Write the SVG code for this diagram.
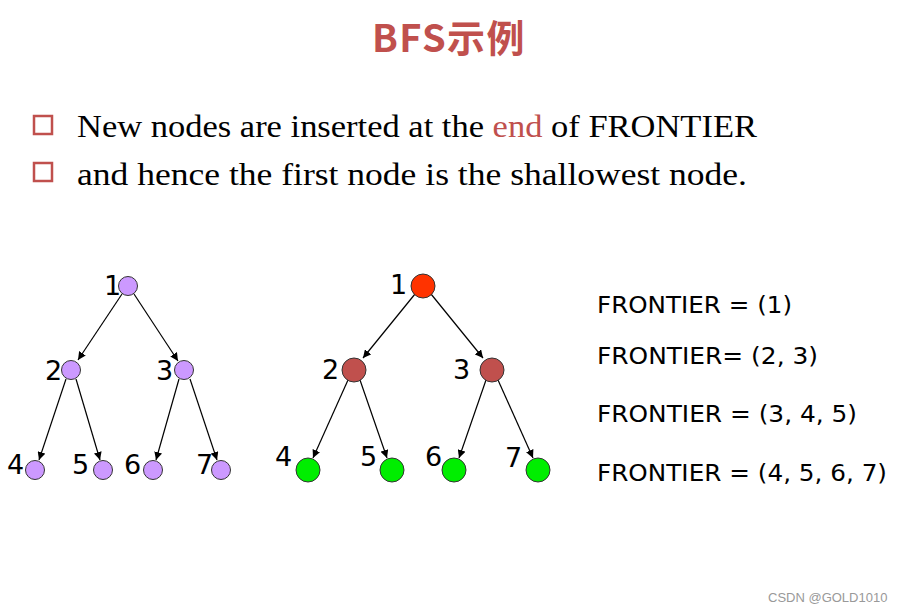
<svg xmlns="http://www.w3.org/2000/svg" width="900" height="612" viewBox="0 0 900 612">
<style>
.title{font-family:"Noto Sans CJK SC","Noto Sans",sans-serif;font-size:38px;font-weight:bold;fill:#C0504D;letter-spacing:1.5px}
.bullet{font-family:"Liberation Serif","DejaVu Serif",serif;font-size:31px;fill:#000}
.box{fill:none;stroke:#C0504D;stroke-width:2.5}
.lbl{font-family:"DejaVu Sans","Noto Sans",sans-serif;font-size:27px;fill:#000}
.fr{font-family:"DejaVu Sans","Noto Sans",sans-serif;font-size:23px;fill:#000}
.edge{stroke:#000;stroke-width:1.2;fill:none;marker-end:url(#ah)}
.purple{fill:#CC99FF;stroke:#333;stroke-width:1}
.red{fill:#FF3300;stroke:#333;stroke-width:1}
.brown{fill:#C0504D;stroke:#333;stroke-width:1}
.green{fill:#00EE00;stroke:#333;stroke-width:1}
.wm{font-family:"Liberation Sans",Arial,sans-serif;font-size:13px;fill:#999}
</style>
<defs>
<marker id="ah" viewBox="0 0 10 10" refX="10" refY="5" markerWidth="8" markerHeight="8" markerUnits="userSpaceOnUse" orient="auto">
<path d="M0,0 L10,5 L0,10 z" fill="#000"/>
</marker>
</defs>
<rect width="900" height="612" fill="#fff"/>
<text class="title" x="449" y="52" text-anchor="middle">BFS示例</text>
<rect class="box" x="34" y="116" width="18" height="18"/>
<rect class="box" x="34" y="163" width="18" height="18"/>
<text class="bullet" x="77" y="137" textLength="680" lengthAdjust="spacingAndGlyphs">New nodes are inserted at the <tspan fill="#C0504D">end</tspan> of FRONTIER</text>
<text class="bullet" x="77" y="185" textLength="670" lengthAdjust="spacingAndGlyphs">and hence the first node is the shallowest node.</text>

<g id="connectors">
<line class="edge" x1="122" y1="294" x2="78" y2="360"/>
<line class="edge" x1="134" y1="294" x2="178" y2="361"/>
<line class="edge" x1="66" y1="379" x2="39" y2="460"/>
<line class="edge" x1="76" y1="379" x2="100" y2="460"/>
<line class="edge" x1="179" y1="379" x2="156" y2="460"/>
<line class="edge" x1="190" y1="379" x2="217" y2="460"/>
<line class="edge" x1="415" y1="294" x2="363" y2="358"/>
<line class="edge" x1="431" y1="294" x2="483" y2="358"/>
<line class="edge" x1="348" y1="380" x2="313" y2="458"/>
<line class="edge" x1="360" y1="380" x2="387" y2="458"/>
<line class="edge" x1="486" y1="380" x2="459" y2="458"/>
<line class="edge" x1="498" y1="380" x2="533" y2="458"/>
</g>

<g id="L1"><circle class="purple" cx="128" cy="286" r="9.5"/><text class="lbl" x="104" y="295">1</text></g>
<g id="L2"><circle class="purple" cx="71" cy="370" r="9.5"/><text class="lbl" x="45" y="380">2</text></g>
<g id="L3"><circle class="purple" cx="184" cy="370" r="9.5"/><text class="lbl" x="156" y="380">3</text></g>
<g id="L4"><circle class="purple" cx="35" cy="470" r="9.5"/><text class="lbl" x="7" y="474">4</text></g>
<g id="L5"><circle class="purple" cx="103" cy="470" r="9.5"/><text class="lbl" x="72" y="474">5</text></g>
<g id="L6"><circle class="purple" cx="153" cy="470" r="9.5"/><text class="lbl" x="124" y="474">6</text></g>
<g id="L7"><circle class="purple" cx="221" cy="470" r="9.5"/><text class="lbl" x="196" y="474">7</text></g>

<g id="R1"><circle class="red" cx="423" cy="286" r="12"/><text class="lbl" x="390" y="294">1</text></g>
<g id="R2"><circle class="brown" cx="354" cy="370" r="12"/><text class="lbl" x="322" y="379">2</text></g>
<g id="R3"><circle class="brown" cx="492" cy="370" r="12"/><text class="lbl" x="453" y="379">3</text></g>
<g id="R4"><circle class="green" cx="308" cy="470" r="12"/><text class="lbl" x="275" y="466">4</text></g>
<g id="R5"><circle class="green" cx="392" cy="470" r="12"/><text class="lbl" x="360" y="466">5</text></g>
<g id="R6"><circle class="green" cx="454" cy="470" r="12"/><text class="lbl" x="425" y="466">6</text></g>
<g id="R7"><circle class="green" cx="538" cy="470" r="12"/><text class="lbl" x="505" y="467">7</text></g>

<text class="fr" x="597" y="313" textLength="195" lengthAdjust="spacingAndGlyphs">FRONTIER = (1)</text>
<text class="fr" x="597" y="364" textLength="221" lengthAdjust="spacingAndGlyphs">FRONTIER= (2, 3)</text>
<text class="fr" x="597" y="422" textLength="260" lengthAdjust="spacingAndGlyphs">FRONTIER = (3, 4, 5)</text>
<text class="fr" x="597" y="481" textLength="290" lengthAdjust="spacingAndGlyphs">FRONTIER = (4, 5, 6, 7)</text>

<text class="wm" x="768" y="602">CSDN @GOLD1010</text>
</svg>
